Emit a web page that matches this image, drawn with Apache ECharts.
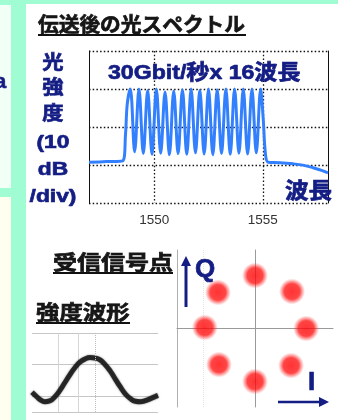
<!DOCTYPE html>
<html>
<head>
<meta charset="utf-8">
<script src="https://cdn.jsdelivr.net/npm/echarts@6/dist/echarts.min.js"></script>
<style>
  html, body { margin: 0; padding: 0; }
  body { width: 338px; height: 420px; position: relative; overflow: hidden; background: #a0fcd3; }
  .panel { position: absolute; }
  #chart { position: absolute; left: 0; top: 0; width: 338px; height: 420px; }
</style>
</head>
<body>
<div class="panel" style="left:0;top:5px;width:11px;height:183px;background:#f2fff6"></div>
<div class="panel" style="left:0;top:197px;width:11px;height:223px;background:#fffff0"></div>
<div class="panel" style="left:26px;top:4px;width:312px;height:416px;background:#ffffff"></div>
<div id="chart"></div>
<script>
// 光スペクトル (波長 nm, dB)
const specWl = [
  1547, 1547.8, 1548.55, 1548.68, 1548.76,
  1548.9, 1549.1, 1549.3, 1549.5, 1549.7, 1549.9, 1550.1, 1550.3, 1550.5, 1550.7, 1550.9,
  1551.1, 1551.3, 1551.5, 1551.7, 1551.9, 1552.1, 1552.3, 1552.5, 1552.7, 1552.9,
  1553.1, 1553.3, 1553.5, 1553.7, 1553.9, 1554.1, 1554.3, 1554.5, 1554.7, 1554.9,
  1555.02, 1555.12, 1555.25, 1555.8, 1556.4, 1556.9, 1557.3, 1557.7, 1558
]
const specDb = [
  -29.3, -29.1, -28.9, -22, -14,
  -10, -26.5, -10, -27, -10.4, -27.2, -10, -26.9, -10.8, -27.3, -10.5,
  -27, -10.2, -27.2, -10, -26.8, -10.3, -27.1, -10, -27.3, -10.2,
  -27, -10, -27.2, -10, -26.9, -10, -27.1, -10, -26.8, -10,
  -18, -27, -29.3, -29.4, -29.7, -30.1, -30.7, -31.4, -32.1
]
const specTicks = [1550, 1555]

// 強度波形 (時間, 強度)
const waveT = [0, 4, 7, 10, 14, 18, 22, 26, 30, 34, 38, 42, 46, 50, 54, 58, 62, 66, 70, 74, 78, 82, 86, 90, 94, 100]
const waveV = [1.25, 0.95, 0.75, 0.65, 0.7, 0.95, 1.35, 1.85, 2.35, 2.8, 3.15, 3.35, 3.45, 3.42, 3.3, 3.0, 2.6, 2.1, 1.6, 1.15, 0.85, 0.68, 0.65, 0.72, 0.85, 1.05]

// 受信信号点 (I, Q)
const constI = [0, 0.76, 1.05, 0.74, 0, -0.74, -1.03, -0.76]
const constQ = [1.08, 0.755, 0, -0.755, -1.08, -0.735, 0.02, 0.735]

const navy = '#141d84'
const dotted = { color: '#111', width: 1.3, type: [1.5, 2.2] }
const jp = '"Noto Sans CJK JP"'
const latin = '"Liberation Sans", "Noto Sans CJK JP"'

function label(text, x, y, size, scaleX, fill, align, font) {
  return {
    type: 'text', x, y, scaleX, z: 100,
    style: {
      text, fill,
      stroke: fill, lineWidth: 0.7,
      font: `bold ${size}px ${font || jp}`,
      textAlign: align || 'left',
      textVerticalAlign: 'middle',
    },
  }
}

function rule(x1, x2, y) {
  return { type: 'line', z: 100, shape: { x1, y1: y, x2, y2: y }, style: { stroke: '#111', lineWidth: 2 } }
}

const chart = echarts.init(document.getElementById('chart'), null, { renderer: 'canvas' })

chart.setOption({
  animation: false,
  backgroundColor: 'transparent',
  grid: [
    { left: 89, top: 51, width: 239, height: 152 },
    { left: 32, top: 333, width: 126, height: 79 },
    { left: 177, top: 250, width: 156, height: 157 },
  ],
  xAxis: [
    {
      gridIndex: 0, type: 'value', min: 1547, max: 1558,
      axisLine: { show: false },
      axisTick: { show: false, customValues: specTicks },
      axisLabel: {
        customValues: specTicks, color: '#333', fontSize: 13.5, fontFamily: 'Liberation Sans', margin: 10,
        formatter: v => String(v),
      },
      splitLine: { show: true, lineStyle: dotted },
    },
    {
      gridIndex: 1, type: 'value', min: 0, max: 100,
      axisLine: { show: false },
      axisTick: { show: false, customValues: [20.6, 36.5] },
      axisLabel: { show: false },
      splitLine: { show: true, lineStyle: { color: '#d6d6d6', width: 1 } },
    },
    {
      gridIndex: 2, type: 'value', min: -1.6, max: 1.6,
      axisLine: { show: true, onZero: true, lineStyle: { color: '#9a9a9a', width: 1 } },
      axisTick: { show: false, customValues: [-1.06] },
      axisLabel: { show: false },
      splitLine: { show: true, lineStyle: { color: '#e4e4e4', type: 'dotted' } },
    },
  ],
  yAxis: [
    {
      gridIndex: 0, type: 'value', min: -40, max: 0, interval: 10,
      axisLine: { show: true, lineStyle: { color: '#111', width: 1 } },
      axisTick: { show: false },
      axisLabel: { show: false },
      splitLine: { show: true, lineStyle: dotted },
    },
    {
      gridIndex: 0, type: 'value', min: -40, max: 0, position: 'right',
      axisLine: { show: true, lineStyle: { color: '#111', width: 1 } },
      axisTick: { show: false },
      axisLabel: { show: false },
      splitLine: { show: false },
    },
    {
      gridIndex: 1, type: 'value', min: 0, max: 5,
      axisLine: { show: false },
      axisTick: { show: false, customValues: [0, 1, 3, 5] },
      axisLabel: { show: false },
      splitLine: { show: true, lineStyle: { color: '#c6c6c6', width: 1 } },
    },
    {
      gridIndex: 2, type: 'value', min: -1.6, max: 1.6,
      axisLine: { show: true, onZero: true, lineStyle: { color: '#9a9a9a', width: 1 } },
      axisTick: { show: false },
      axisLabel: { show: false },
      splitLine: { show: false },
    },
    {
      gridIndex: 2, type: 'value', min: -1.6, max: 1.6, position: 'left',
      axisLine: { show: true, onZero: false, lineStyle: { color: '#b0b0b0', width: 1 } },
      axisTick: { show: false },
      axisLabel: { show: false },
      splitLine: { show: false },
    },
  ],
  series: [
    {
      type: 'line',
      xAxisIndex: 0, yAxisIndex: 0,
      data: specWl.map((wl, i) => [wl, specDb[i]]),
      smooth: 0.35,
      showSymbol: false,
      lineStyle: { color: '#3380ff', width: 3 },
      z: 5,
    },
    {
      type: 'line',
      xAxisIndex: 1, yAxisIndex: 2,
      data: waveT.map((t, i) => [t, waveV[i]]),
      smooth: true,
      showSymbol: false,
      lineStyle: { color: 'rgba(20,20,20,0.85)', width: 5, shadowBlur: 2, shadowColor: 'rgba(0,0,0,0.6)' },
      markLine: {
        silent: true, symbol: 'none', label: { show: false },
        lineStyle: { color: '#bdbdbd', type: 'dotted', width: 1 },
        data: [{ xAxis: 50 }],
      },
    },
    {
      type: 'scatter',
      xAxisIndex: 2, yAxisIndex: 3,
      data: constI.map((v, i) => [v, constQ[i]]),
      symbolSize: 26,
      itemStyle: {
        color: new echarts.graphic.RadialGradient(0.5, 0.5, 0.5, [
          { offset: 0, color: 'rgba(255,0,0,1)' },
          { offset: 0.6, color: 'rgba(255,10,10,0.95)' },
          { offset: 0.8, color: 'rgba(255,40,40,0.5)' },
          { offset: 1, color: 'rgba(255,80,80,0)' },
        ]),
      },
    },
  ],
  graphic: [
    label('a', -5, 82, 20, 1, navy, 'left', latin),
    label('伝送後の光スペクトル', 38, 24, 20, 1.035, '#161616'),
    rule(38, 246, 35),
    label('光', 53, 62, 19, 1.12, navy, 'center'),
    label('強', 53, 87, 19, 1.12, navy, 'center'),
    label('度', 53, 113, 19, 1.12, navy, 'center'),
    label('(10', 53, 143, 19, 1.2, navy, 'center', latin),
    label('dB', 53, 170, 19, 1.2, navy, 'center', latin),
    label('/div)', 53, 197, 19, 1.2, navy, 'center', latin),
    label('30Gbit/秒x 16波長', 108, 73, 21, 1.1, navy, 'left', latin),
    label('波長', 285, 190, 22, 1.07, navy, 'left'),
    label('受信信号点', 53, 262, 20, 1.2, '#161616'),
    rule(53, 173, 273),
    label('強度波形', 36, 312, 20, 1.17, '#161616'),
    rule(36, 130, 323),
    label('Q', 195, 270, 26, 1, navy, 'left', latin),
    label('I', 308, 383, 26, 1, navy, 'left', latin),
    { type: 'line', z: 100, shape: { x1: 186, y1: 307, x2: 186, y2: 263 }, style: { stroke: navy, lineWidth: 3 } },
    { type: 'polygon', z: 100, shape: { points: [[186, 256], [181, 266], [191, 266]] }, style: { fill: navy } },
    { type: 'line', z: 100, shape: { x1: 278, y1: 402, x2: 320, y2: 402 }, style: { stroke: navy, lineWidth: 2.5 } },
    { type: 'polygon', z: 100, shape: { points: [[329, 402], [319, 397], [319, 407]] }, style: { fill: navy } },
  ],
})
</script>
</body>
</html>
